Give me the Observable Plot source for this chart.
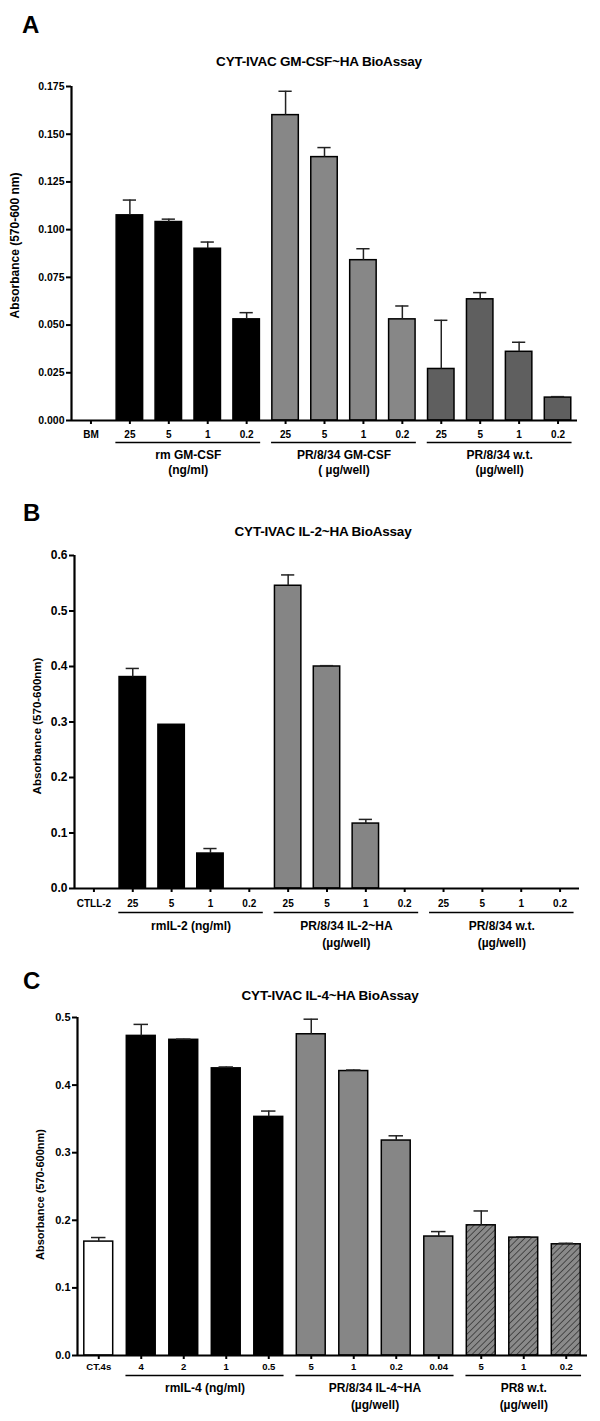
<!DOCTYPE html>
<html>
<head>
<meta charset="utf-8">
<script src="https://cdn.jsdelivr.net/npm/d3@7"></script>
<script src="https://cdn.jsdelivr.net/npm/@observablehq/plot@0.6"></script>
<style>
  body { margin: 0; background: #fff; font-family: "Liberation Sans", Arial, sans-serif; }
  #page { position: relative; width: 600px; height: 1421px; overflow: hidden; }
  .letter { position: absolute; font-weight: bold; font-size: 24px; line-height: 1; transform: translateY(-50%); }
  .title { position: absolute; font-weight: bold; font-size: 13.5px; line-height: 1; transform: translate(-50%, -50%); white-space: nowrap; letter-spacing: -0.2px; }
  .panel { position: absolute; left: 0; }
  .panel svg { overflow: visible; }
  #pA g[aria-label^="y-axis"] text { font-size: 10.5px; }
  #pB g[aria-label^="y-axis"] text { font-size: 12px; }
  #pC g[aria-label^="y-axis"] text { font-size: 11px; }
  #pC g[aria-label^="x-axis"] text { font-size: 9.5px; }
  g[aria-label^="y-axis"] line, g[aria-label^="x-axis"] line,
  g[aria-label="y-axis tick"] path, g[aria-label="x-axis tick"] path { stroke-width: 2; }
</style>
</head>
<body>
<div id="page">
  <div class="letter" style="left:22px;top:25px">A</div>
  <div class="title" style="left:319px;top:62px">CYT-IVAC GM-CSF~HA BioAssay</div>
  <div class="panel" id="pA" style="top:70px"></div>

  <div class="letter" style="left:23px;top:513px">B</div>
  <div class="title" style="left:323px;top:532px">CYT-IVAC IL-2~HA BioAssay</div>
  <div class="panel" id="pB" style="top:545px"></div>

  <div class="letter" style="left:23px;top:981px">C</div>
  <div class="title" style="left:330px;top:996px">CYT-IVAC IL-4~HA BioAssay</div>
  <div class="panel" id="pC" style="top:1005px"></div>
</div>
<script>
// ---------------- Panel A data ----------------
const catsA = ["BM", "25", "5", "1", "0.2", "25", "5", "1", "0.2", "25", "5", "1", "0.2"];
const groupOfA = [-1, 0, 0, 0, 0, 1, 1, 1, 1, 2, 2, 2, 2];
const meansA = [0, 0.1075, 0.104, 0.090, 0.053, 0.160, 0.138, 0.084, 0.053, 0.027, 0.0635, 0.036, 0.012];
const semA = [0, 0.008, 0.0015, 0.0035, 0.0035, 0.0125, 0.005, 0.006, 0.007, 0.0255, 0.0035, 0.005, 0.0005];
const groupNamesA = ["rm GM-CSF", "PR/8/34 GM-CSF", "PR/8/34 w.t."];
const groupUnitsA = ["(ng/ml)", "( \u00b5g/well)", "(\u00b5g/well)"];
const yTicksA = [0, 0.025, 0.05, 0.075, 0.1, 0.125, 0.15, 0.175];
const yLabelA = "Absorbance (570-600 nm)";

// ---------------- Panel B data ----------------
const catsB = ["CTLL-2", "25", "5", "1", "0.2", "25", "5", "1", "0.2", "25", "5", "1", "0.2"];
const groupOfB = [-1, 0, 0, 0, 0, 1, 1, 1, 1, 2, 2, 2, 2];
const meansB = [0, 0.381, 0.295, 0.063, 0, 0.5455, 0.400, 0.117, 0, 0, 0, 0, 0];
const semB = [0, 0.0155, 0, 0.009, 0, 0.0195, 0.0015, 0.0075, 0, 0, 0, 0, 0];
const groupNamesB = ["rmIL-2 (ng/ml)", "PR/8/34 IL-2~HA", "PR/8/34 w.t."];
const groupUnitsB = ["", "(\u00b5g/well)", "(\u00b5g/well)"];
const yTicksB = [0, 0.1, 0.2, 0.3, 0.4, 0.5, 0.6];
const yLabelB = "Absorbance (570-600nm)";

// ---------------- Panel C data ----------------
const catsC = ["CT.4s", "4", "2", "1", "0.5", "5", "1", "0.2", "0.04", "5", "1", "0.2"];
const groupOfC = [-1, 0, 0, 0, 0, 1, 1, 1, 1, 2, 2, 2];
const meansC = [0.1685, 0.4728, 0.467, 0.4248, 0.353, 0.4752, 0.4208, 0.318, 0.176, 0.1926, 0.1744, 0.1645];
const semC = [0.006, 0.017, 0.001, 0.002, 0.0086, 0.0223, 0.0015, 0.007, 0.0073, 0.0212, 0.001, 0.0015];
const groupNamesC = ["rmIL-4 (ng/ml)", "PR/8/34 IL-4~HA", "PR8 w.t."];
const groupUnitsC = ["", "(\u00b5g/well)", "(\u00b5g/well)"];
const yTicksC = [0, 0.1, 0.2, 0.3, 0.4, 0.5];
const yLabelC = "Absorbance (570-600nm)";

// ---------------- drawing ----------------
const HALF = 0.34;   // half bar width (in category steps)
const CAP = 0.17;    // half error-cap width

function panel(cfg) {
  const n = cfg.cats.length;
  const bars = cfg.cats.map((c, i) => ({i, cat: c, value: cfg.means[i], sem: cfg.sem[i], g: cfg.groupOf[i]}));
  const groups = cfg.groupNames.map((name, k) => {
    const idx = bars.filter(b => b.g === k).map(b => b.i);
    return {name, units: cfg.groupUnits[k], first: d3.min(idx), last: d3.max(idx), mid: (d3.min(idx) + d3.max(idx)) / 2};
  });
  const marks = [];
  const fillSets = [{g: -1, fill: cfg.ctrlFill}, ...cfg.groupFills.map((f, k) => ({g: k, fill: f}))];
  for (const fs of fillSets) {
    marks.push(Plot.rect(bars.filter(b => b.g === fs.g && b.value > 0), {
      x1: b => b.i - HALF, x2: b => b.i + HALF, y1: 0, y2: "value",
      fill: fs.fill, stroke: "#000", strokeWidth: 1.5
    }));
  }
  const errs = bars.filter(b => b.sem > 0);
  marks.push(Plot.ruleX(errs, {x: "i", y1: "value", y2: b => b.value + b.sem, stroke: "#222", strokeWidth: 1.5}));
  marks.push(Plot.ruleY(errs, {y: b => b.value + b.sem, x1: b => b.i - CAP, x2: b => b.i + CAP, stroke: "#222", strokeWidth: 1.5}));
  // axis lines
  marks.push(Plot.ruleX([-0.5], {y1: 0, y2: cfg.yMax, strokeWidth: 2.2}));
  marks.push(Plot.ruleY([0], {strokeWidth: 2.2}));
  // group underlines and labels
  marks.push(Plot.ruleY(groups, {y: 0, x1: g => g.first - 0.36, x2: g => g.last + 0.36, dy: cfg.ulDy, strokeWidth: 1.3}));
  marks.push(Plot.text(groups, {x: "mid", y: 0, text: "name", dy: cfg.nameDy, fontSize: 12, fontWeight: "bold"}));
  marks.push(Plot.text(groups, {x: "mid", y: 0, text: "units", dy: cfg.unitDy, fontSize: 12, fontWeight: "bold"}));
  // y label
  marks.push(Plot.text([cfg.yLabel], {frameAnchor: "left", textAnchor: "middle", text: d => d, rotate: -90, dx: -cfg.yLabelOffset, dy: cfg.yLabelDy || 0, fontSize: cfg.yLabelSize, fontWeight: "bold"}));

  const svg = Plot.plot({
    width: 600,
    height: cfg.height,
    marginTop: cfg.marginTop,
    marginBottom: cfg.height - cfg.marginTop - cfg.frameH,
    marginLeft: cfg.left,
    marginRight: 600 - cfg.right,
    style: {fontFamily: "'Liberation Sans', Arial, sans-serif", fontSize: "10px", fontWeight: "bold", color: "#000", background: "transparent", overflow: "visible"},
    x: {domain: [-0.5, n - 0.5], ticks: d3.range(n), tickFormat: i => cfg.cats[i], tickSize: 4, tickPadding: cfg.xPad, label: null},
    y: {domain: [0, cfg.yMax], ticks: cfg.yTicks, tickFormat: cfg.yFmt, tickSize: 5, tickPadding: 2, label: null},
    marks
  });
  if (cfg.defs) {
    const ns = "http://www.w3.org/2000/svg";
    const defs = document.createElementNS(ns, "defs");
    defs.innerHTML = cfg.defs;
    svg.insertBefore(defs, svg.firstChild);
  }
  return svg;
}

document.getElementById("pA").appendChild(panel({
  cats: catsA, groupOf: groupOfA, means: meansA, sem: semA,
  groupNames: groupNamesA, groupUnits: groupUnitsA, yTicks: yTicksA, yLabel: yLabelA,
  yMax: 0.175, yFmt: d3.format(".3f"),
  ctrlFill: "#fff", groupFills: ["#000", "#878787", "#5f5f5f"],
  height: 412, marginTop: 16, frameH: 334, left: 71, right: 577,
  xPad: 6, ulDy: 22, nameDy: 35, unitDy: 50, yLabelOffset: 56, yLabelSize: 12, yLabelDy: -8
}));

document.getElementById("pB").appendChild(panel({
  cats: catsB, groupOf: groupOfB, means: meansB, sem: semB,
  groupNames: groupNamesB, groupUnits: groupUnitsB, yTicks: yTicksB, yLabel: yLabelB,
  yMax: 0.6, yFmt: d3.format(".1f"),
  ctrlFill: "#fff", groupFills: ["#000", "#858585", "#5f5f5f"],
  height: 405, marginTop: 10, frameH: 333, left: 74, right: 579,
  xPad: 7, ulDy: 24, nameDy: 38, unitDy: 55, yLabelOffset: 37, yLabelSize: 11.5, yLabelDy: 4
}));

document.getElementById("pC").appendChild(panel({
  cats: catsC, groupOf: groupOfC, means: meansC, sem: semC,
  groupNames: groupNamesC, groupUnits: groupUnitsC, yTicks: yTicksC, yLabel: yLabelC,
  yMax: 0.5, yFmt: d3.format(".1f"),
  ctrlFill: "#fff", groupFills: ["#000", "#868686", "url(#hatchC)"],
  height: 412, marginTop: 12, frameH: 338, left: 77, right: 587,
  xPad: 4, ulDy: 20, nameDy: 33, unitDy: 50, yLabelOffset: 37, yLabelSize: 11, yLabelDy: 8,
  defs: '<pattern id="hatchC" patternUnits="userSpaceOnUse" width="4.5" height="4.5" patternTransform="rotate(45)">' +
        '<rect width="4.5" height="4.5" fill="#8a8a8a"></rect>' +
        '<line x1="0" y1="0" x2="0" y2="4.5" stroke="#2a2a2a" stroke-width="1.4"></line></pattern>'
}));
</script>
</body>
</html>
